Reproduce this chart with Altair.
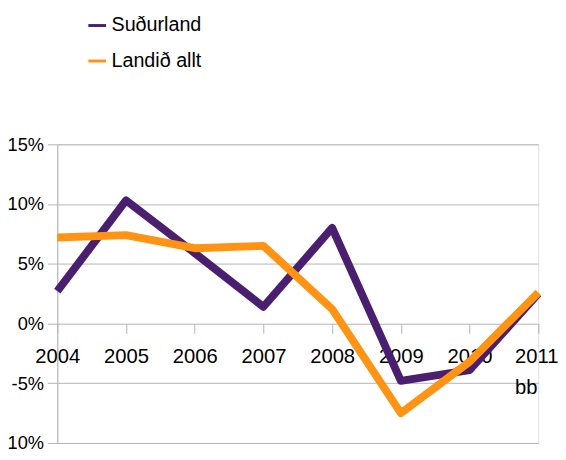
import altair as alt
import pandas as pd

years = ["2004", "2005", "2006", "2007", "2008", "2009", "2010", "2011 bb"]
sudurland = [2.7, 10.3, 5.9, 1.4, 8.0, -4.8, -3.9, 2.5]
landid_allt = [7.2, 7.4, 6.3, 6.5, 1.2, -7.5, -3.2, 2.6]
series_names = ["Suðurland", "Landið allt"]
series_colors = ["#4b1f6f", "#ff9414"]
y_ticks = [-10, -5, 0, 5, 10, 15]

rows = []
for i, y in enumerate(years):
    rows.append({"year": y, "series": series_names[0], "value": sudurland[i], "order": 0})
    rows.append({"year": y, "series": series_names[1], "value": landid_allt[i], "order": 1})
df = pd.DataFrame(rows)

GRID = "#b4b4b4"
REG = "Liberation Sans, Arial, sans-serif"

W, H = 488, 303
zero_from_bottom = H * 10 / 25

chart = (
    alt.Chart(df)
    .mark_line(strokeWidth=8, strokeJoin="round", strokeCap="butt")
    .encode(
        x=alt.X(
            "year:N",
            sort=years,
            scale=alt.Scale(type="point", padding=0),
            axis=alt.Axis(
                title=None,
                orient="bottom",
                offset=-zero_from_bottom,
                domain=False,
                grid=False,
                ticks=True,
                tickSize=10,
                tickColor=GRID,
                tickWidth=1,
                labelAngle=0,
                labelFont=REG,
                labelFontSize=20.5,
                labelColor="#000000",
                labelPadding=14,
                labelLineHeight=31,
                labelExpr="split(datum.label, ' ')",
                labelAlign=alt.condition("datum.value == '2011 bb'", alt.value("left"), alt.value("center")),
                labelOffset=alt.condition("datum.value == '2011 bb'", alt.value(-24), alt.value(0)),
            ),
        ),
        y=alt.Y(
            "value:Q",
            scale=alt.Scale(domain=[-10, 15], nice=False, zero=False),
            axis=alt.Axis(
                title=None,
                values=y_ticks,
                labelExpr="datum.value + '%'",
                domain=True,
                domainColor=GRID,
                grid=True,
                gridColor=GRID,
                gridWidth=1,
                tickSize=10,
                tickColor=GRID,
                labelFont=REG,
                labelFontSize=18.5,
                labelColor="#000000",
                labelPadding=4,
            ),
        ),
        color=alt.Color(
            "series:N",
            scale=alt.Scale(domain=series_names, range=series_colors),
            legend=alt.Legend(
                title=None,
                orient="none",
                legendX=30,
                legendY=-131,
                symbolType="stroke",
                symbolSize=324,
                symbolStrokeWidth=3,
                labelFont=REG,
                labelFontSize=20,
                labelColor="#000000",
                labelOffset=4,
                rowPadding=15,
            ),
        ),
        order=alt.Order("order:Q"),
        detail="series:N",
    )
    .properties(
        width=W,
        height=H,
        autosize=alt.AutoSizeParams(type="none"),
        padding={"left": 50, "top": 135, "right": 20, "bottom": 14},
    )
    .configure_view(stroke=GRID, strokeWidth=1)
    .configure(background="#ffffff")
)

chart.save("out.html", embed_options={"renderer": "svg", "actions": False})
